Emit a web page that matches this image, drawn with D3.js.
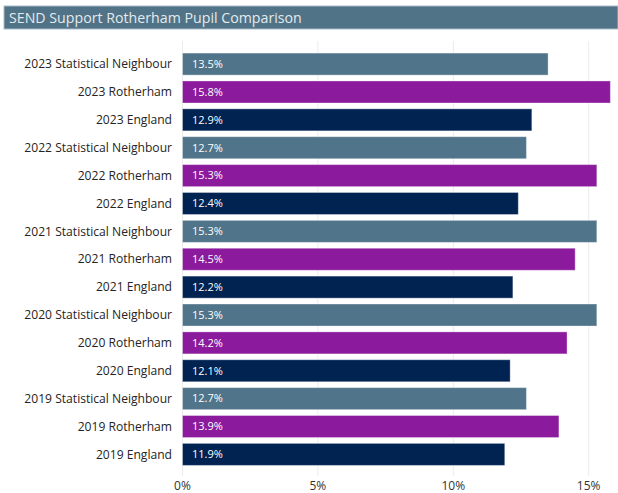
<!DOCTYPE html>
<html>
<head>
<meta charset="utf-8">
<script src="https://cdn.jsdelivr.net/npm/d3@7"></script>
<style>
  body { margin: 0; background: #fff; font-family: "Open Sans", "Noto Sans", sans-serif; }
</style>
</head>
<body>
<div id="chart"></div>
<script>
const categories = [
  "2023 Statistical Neighbour", "2023 Rotherham", "2023 England",
  "2022 Statistical Neighbour", "2022 Rotherham", "2022 England",
  "2021 Statistical Neighbour", "2021 Rotherham", "2021 England",
  "2020 Statistical Neighbour", "2020 Rotherham", "2020 England",
  "2019 Statistical Neighbour", "2019 Rotherham", "2019 England"
];
const values = [13.5, 15.8, 12.9, 12.7, 15.3, 12.4, 15.3, 14.5, 12.2, 15.3, 14.2, 12.1, 12.7, 13.9, 11.9];
const ticks = [0, 5, 10, 15];

const width = 618, height = 493;

const colorFor = name => name.includes("Statistical") ? "#507489"
  : name.includes("Rotherham") ? "#8b1a9c" : "#002352";

const svg = d3.select("#chart").append("svg")
  .attr("width", width)
  .attr("height", height);

// title bar
svg.append("rect")
  .attr("x", 4).attr("y", 6)
  .attr("width", width - 4).attr("height", 23)
  .attr("fill", "#507387")
  .attr("stroke", "#a9bcc7")
  .attr("stroke-width", 1);

svg.append("text")
  .attr("x", 9).attr("y", 23)
  .attr("font-size", 14.2)
  .attr("fill", "#e4eaee")
  .text("SEND Support Rotherham Pupil Comparison");

const x = d3.scaleLinear().domain([0, 15]).range([182.5, 588.7]);
const y = d3.scaleBand().domain(categories).range([50.3, 468.2]).paddingInner(0.21).paddingOuter(0.1);

// gridlines
svg.append("g")
  .selectAll("line")
  .data(ticks)
  .enter().append("line")
  .attr("x1", d => x(d)).attr("x2", d => x(d))
  .attr("y1", 41).attr("y2", 476)
  .attr("stroke", "#ececec")
  .attr("stroke-width", 1);

// bars
svg.append("g")
  .selectAll("rect")
  .data(categories)
  .enter().append("rect")
  .attr("x", x(0))
  .attr("y", d => y(d))
  .attr("width", (d, i) => x(values[i]) - x(0))
  .attr("height", y.bandwidth())
  .attr("fill", d => colorFor(d))
  .attr("stroke", "rgba(255,255,255,0.35)")
  .attr("stroke-width", 1);

// value labels
svg.append("g")
  .selectAll("text")
  .data(categories)
  .enter().append("text")
  .attr("x", 192)
  .attr("y", d => y(d) + y.bandwidth() / 2)
  .attr("dy", "0.35em")
  .attr("font-size", 11)
  .attr("fill", "#ffffff")
  .text((d, i) => values[i].toFixed(1) + "%");

// category labels
svg.append("g")
  .selectAll("text")
  .data(categories)
  .enter().append("text")
  .attr("x", 172)
  .attr("y", d => y(d) + y.bandwidth() / 2)
  .attr("dy", "0.35em")
  .attr("text-anchor", "end")
  .attr("font-size", 12.1)
  .attr("fill", "#252423")
  .text(d => d);

// x axis labels
svg.append("g")
  .selectAll("text")
  .data(ticks)
  .enter().append("text")
  .attr("x", d => x(d))
  .attr("y", 490)
  .attr("text-anchor", "middle")
  .attr("font-size", 12)
  .attr("fill", "#333")
  .text(d => d + "%");
</script>
</body>
</html>
